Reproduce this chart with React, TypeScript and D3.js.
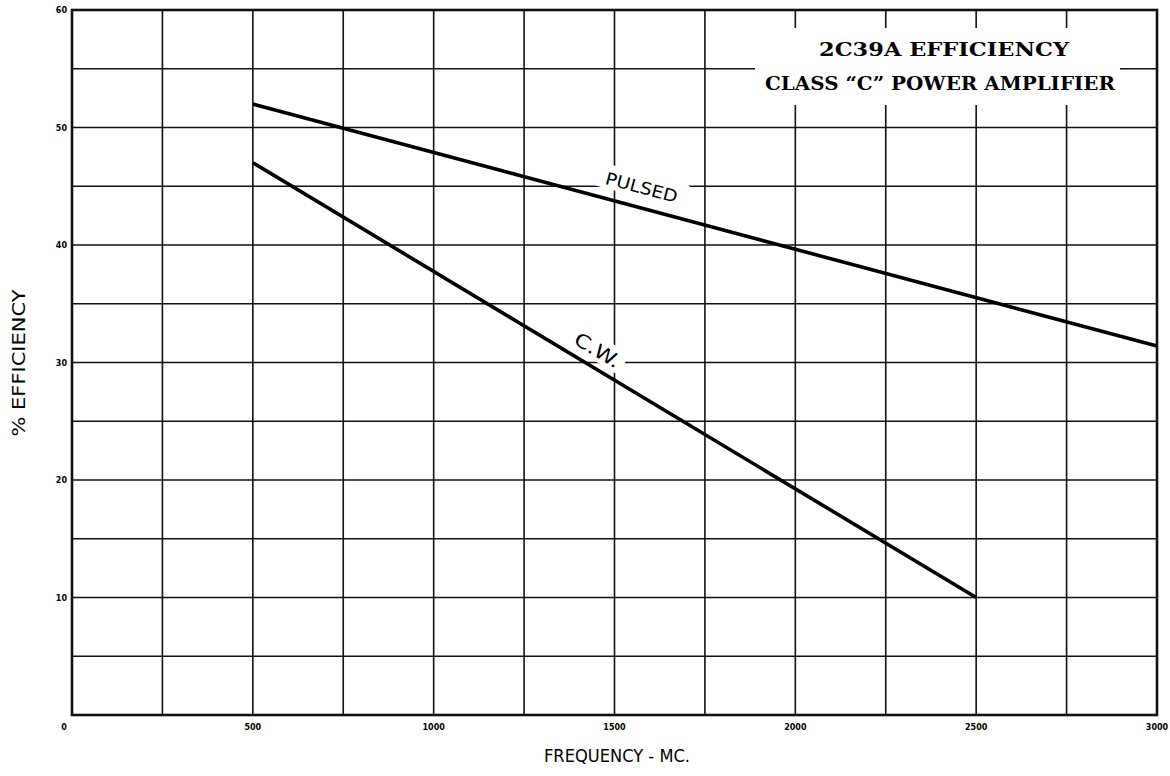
import React from 'react';
import * as d3 from 'd3';

// frequency (MC) vs % efficiency
const pulsedFreq = [500, 3000];
const pulsedEff = [52, 31.4];
const cwFreq = [500, 2500];
const cwEff = [47, 10];

const xTicks = [500, 1000, 1500, 2000, 2500, 3000];
const yTicks = [10, 20, 30, 40, 50, 60];
const xGrid = d3.range(250, 3000, 250);
const yGrid = d3.range(5, 60, 5);

const titleLines = ['2C39A EFFICIENCY', 'CLASS \u201CC\u201D POWER AMPLIFIER'];

const W = 1170;
const H = 776;
const margin = { top: 10, right: 13, bottom: 61, left: 72 };

const App: React.FC = () => {
  const x = d3.scaleLinear().domain([0, 3000]).range([margin.left, W - margin.right]);
  const y = d3.scaleLinear().domain([0, 60]).range([H - margin.bottom, margin.top]);

  const line = d3.line<[number, number]>()
    .x(d => x(d[0]))
    .y(d => y(d[1]));

  const pulsed = pulsedFreq.map((f, i) => [f, pulsedEff[i]] as [number, number]);
  const cw = cwFreq.map((f, i) => [f, cwEff[i]] as [number, number]);

  // angle of a series in screen space, for the inline labels
  const angle = (pts: [number, number][]) => {
    const a = pts[0], b = pts[pts.length - 1];
    return Math.atan2(y(b[1]) - y(a[1]), x(b[0]) - x(a[0])) * 180 / Math.PI;
  };

  const labelFont = "'DejaVu Sans', 'Noto Sans', sans-serif";

  const seriesLabels = [
    { text: 'PULSED', at: [1575, 44.9], rot: angle(pulsed), w: 92, len: 74, fs: 17 },
    { text: 'C.W.', at: [1452, 31.0], rot: angle(cw), w: 60, len: 50, fs: 19 },
  ];

  return (
    <svg width={W} height={H} style={{ position: 'absolute', left: 0, top: 0, background: '#fff' }}>
      {/* grid */}
      <g stroke="#111" strokeWidth={1.6}>
        {xGrid.map(v => (
          <line key={'gx' + v} x1={x(v)} x2={x(v)} y1={y(60)} y2={y(0)} />
        ))}
        {yGrid.map(v => (
          <line key={'gy' + v} x1={x(0)} x2={x(3000)} y1={y(v)} y2={y(v)} />
        ))}
      </g>

      {/* white patches under the labels */}
      <rect x={755} y={28} width={365} height={77} fill="#fff" />
      {seriesLabels.map(l => (
        <rect
          key={'bg' + l.text}
          x={-l.w / 2} y={-14} width={l.w} height={24}
          fill="#fff"
          transform={`translate(${x(l.at[0])},${y(l.at[1])}) rotate(${l.rot})`}
        />
      ))}

      {/* frame */}
      <rect
        x={x(0)} y={y(60)} width={x(3000) - x(0)} height={y(0) - y(60)}
        fill="none" stroke="#111" strokeWidth={2.6}
      />

      {/* series */}
      <path d={line(pulsed) || ''} fill="none" stroke="#000" strokeWidth={3.6} />
      <path d={line(cw) || ''} fill="none" stroke="#000" strokeWidth={3.6} />

      {seriesLabels.map(l => (
        <text
          key={'t' + l.text}
          transform={`translate(${x(l.at[0])},${y(l.at[1])}) rotate(${l.rot})`}
          textAnchor="middle" dy={6}
          fontFamily={labelFont} fontSize={l.fs}
          textLength={l.len} lengthAdjust="spacingAndGlyphs"
        >{l.text}</text>
      ))}

      {/* title */}
      <text x={944} y={56} textAnchor="middle" fontFamily="'DejaVu Serif', serif" fontWeight="bold"
        fontSize={18} textLength={250} lengthAdjust="spacingAndGlyphs">{titleLines[0]}</text>
      <text x={940} y={90} textAnchor="middle" fontFamily="'DejaVu Serif', serif" fontWeight="bold"
        fontSize={18} textLength={350} lengthAdjust="spacingAndGlyphs">{titleLines[1]}</text>

      {/* tick labels */}
      <g fontFamily="'DejaVu Sans', sans-serif" fontWeight="bold" fontSize={8} fill="#000">
        {yTicks.map(v => (
          <text key={'yt' + v} x={x(0) - 5} y={y(v) + 3} textAnchor="end">{v}</text>
        ))}
        {xTicks.map(v => (
          <text key={'xt' + v} x={x(v)} y={y(0) + 15} textAnchor="middle">{v}</text>
        ))}
        <text x={x(0) - 8} y={y(0) + 15} textAnchor="middle">0</text>
      </g>

      {/* axis titles */}
      <text x={617} y={762} textAnchor="middle" fontFamily={labelFont} fontSize={17}
        textLength={146} lengthAdjust="spacingAndGlyphs">FREQUENCY - MC.</text>
      <text transform="translate(25,363) rotate(-90)" textAnchor="middle" fontFamily={labelFont}
        fontSize={17} textLength={147} lengthAdjust="spacingAndGlyphs">% EFFICIENCY</text>
    </svg>
  );
};

export default App;
